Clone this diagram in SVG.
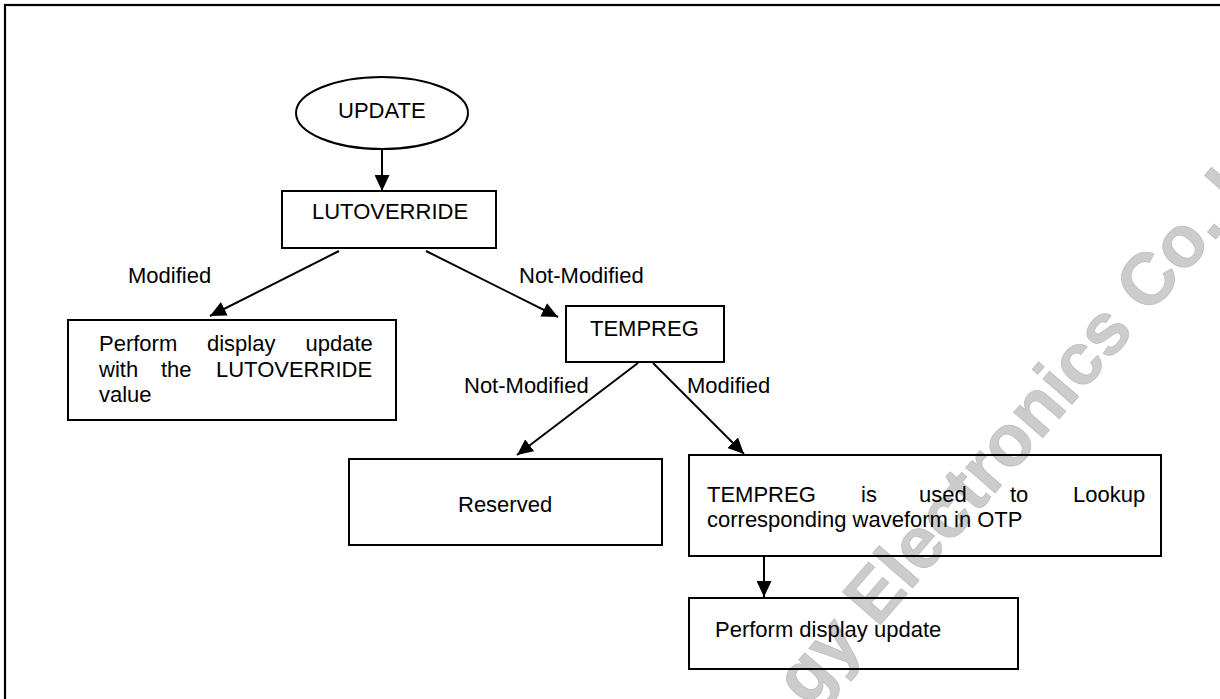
<svg xmlns="http://www.w3.org/2000/svg" width="1220" height="699" viewBox="0 0 1220 699">
<defs>
<style>
.t{font-family:"Liberation Sans",Arial,sans-serif;font-size:22px;fill:#000}
.box{fill:none;stroke:#000;stroke-width:2}
.conn{stroke:#000;stroke-width:2;fill:none;marker-end:url(#ah)}
.wm{font-family:"Liberation Sans",Arial,sans-serif;font-weight:bold;font-size:73px;fill:#cccccc;stroke:#bdbdbd;stroke-width:0.8}
</style>
<marker id="ah" markerUnits="userSpaceOnUse" markerWidth="17" markerHeight="15" refX="16" refY="7.5" orient="auto">
<path d="M0,0 L16,7.5 L0,15 z" fill="#000"/>
</marker>
</defs>
<rect x="0" y="0" width="1220" height="699" fill="#fff"/>
<rect id="frame" x="5" y="5" width="1230" height="710" fill="none" stroke="#000" stroke-width="2.2"/>
<g id="watermark">
<text class="wm" transform="translate(808,708) rotate(-49)">gy Electronics Co. L</text>
</g>
<g id="connectors">
<line class="conn" x1="382" y1="150" x2="382" y2="191"/>
<line class="conn" x1="339" y1="251" x2="210" y2="316"/>
<line class="conn" x1="426" y1="251" x2="558" y2="317"/>
<line class="conn" x1="638" y1="363" x2="517" y2="455"/>
<line class="conn" x1="653" y1="363" x2="744" y2="454"/>
<line class="conn" x1="764" y1="556" x2="764" y2="597"/>
<text class="t" x="128" y="283">Modified</text>
<text class="t" x="519" y="283">Not-Modified</text>
<text class="t" x="464" y="393">Not-Modified</text>
<text class="t" x="687" y="393">Modified</text>
</g>
<g id="update">
<ellipse cx="382" cy="113" rx="86" ry="36" fill="#fff" stroke="#000" stroke-width="2"/>
<text class="t" x="338" y="118">UPDATE</text>
</g>
<g id="lutoverride">
<rect class="box" x="282" y="191" width="214" height="57"/>
<text class="t" x="312" y="219">LUTOVERRIDE</text>
</g>
<g id="perform-lut">
<rect class="box" x="68" y="320" width="328" height="100"/>
<text class="t" y="351"><tspan x="99">Perform</tspan><tspan x="207">display</tspan><tspan x="305.5">update</tspan></text>
<text class="t" y="377"><tspan x="99">with</tspan><tspan x="161">the</tspan><tspan x="216">LUTOVERRIDE</tspan></text>
<text class="t" x="99" y="402">value</text>
</g>
<g id="tempreg">
<rect class="box" x="566" y="306" width="158" height="56"/>
<text class="t" x="590" y="336">TEMPREG</text>
</g>
<g id="reserved">
<rect class="box" x="349" y="459" width="313" height="86"/>
<text class="t" x="458" y="512">Reserved</text>
</g>
<g id="lookup">
<rect class="box" x="689" y="455" width="472" height="101"/>
<text class="t" y="502"><tspan x="707">TEMPREG</tspan><tspan x="861">is</tspan><tspan x="919">used</tspan><tspan x="1010">to</tspan><tspan x="1073">Lookup</tspan></text>
<text class="t" x="707" y="527">corresponding waveform in OTP</text>
</g>
<g id="perform-final">
<rect class="box" x="689" y="598" width="329" height="71"/>
<text class="t" x="715" y="637">Perform display update</text>
</g>
</svg>
